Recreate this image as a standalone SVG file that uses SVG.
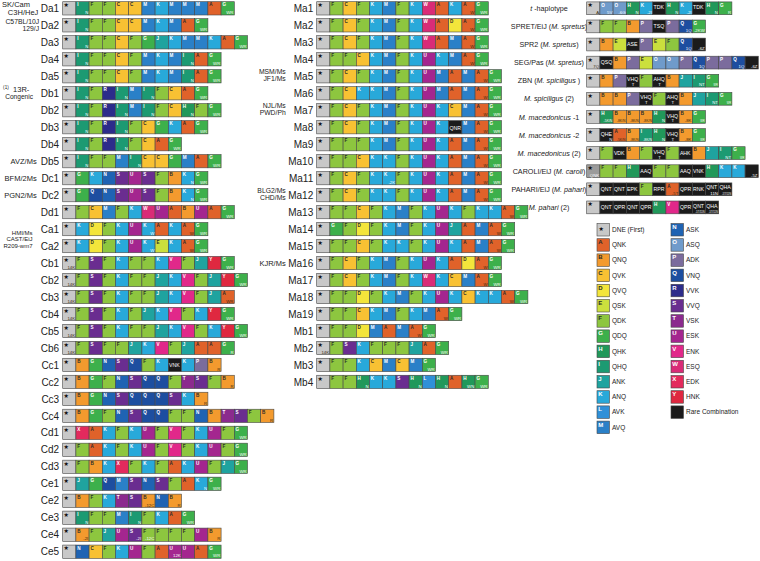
<svg xmlns="http://www.w3.org/2000/svg" width="760" height="561" viewBox="0 0 760 561">
<style>
rect{width:13.2px;height:13.3px;stroke:#474747;stroke-width:.6px}
.rc rect{height:12.8px}
.lg rect{width:12.5px;height:12.5px}
.Z{fill:#c8c8c8}.Z2{fill:#9b9b9b}.bx{fill:#1b1b1b}
.A{fill:#e0622a}.B{fill:#f39a2e}.C{fill:#f8c133}.D{fill:#f3e53b}.E{fill:#cbdf3d}.F{fill:#8dc63f}.G{fill:#3db04b}.H{fill:#21985a}.I{fill:#1c9a72}.J{fill:#1fa39f}.K{fill:#28a9da}.L{fill:#2f90d8}.M{fill:#2a80c8}.N{fill:#1f63b3}.O{fill:#6f9bcb}.P{fill:#7b6c9d}.Q{fill:#1d4ea0}.R{fill:#2c2c8b}.S{fill:#6a2d90}.T{fill:#8b2a8e}.U{fill:#a4268f}.V{fill:#e1288a}.W{fill:#d92c77}.X{fill:#e32a5d}.Y{fill:#df2840}
text{font-family:"Liberation Sans",Arial,sans-serif}
.l text{font-size:4.6px;font-weight:bold;fill:#fff}
.l .d{fill:#2a2a2a}
.s text{font-size:4.3px;fill:#fff;text-anchor:end}
.s .d{fill:#3a2a10}
.st{font-family:"DejaVu Sans",sans-serif;font-size:6px;fill:#111}
.bk{font-size:5.2px;fill:#fff}
.rl{font-size:10px;text-anchor:end;fill:#222}
.sl{font-size:7.5px;text-anchor:end;fill:#222}
.sm{font-size:6.8px;text-anchor:end;fill:#222}
.ss{font-size:6px;text-anchor:end;fill:#222}
.sp{font-size:7.2px;text-anchor:middle;fill:#222}
.i{font-style:italic}
.lt{font-size:6.5px;fill:#222}
.ll{font-size:6px;font-weight:bold;fill:#fff}
.ll.d{fill:#2a2a2a}
</style>

<g id="left">
<g id="Da1" transform="translate(62.7,1.7)"><text class="sl" x="-32.7" y="5.6">SK/Cam</text><text class="sl" x="-24.4" y="13.1">C3H/HeJ</text><text class="rl" x="-3.5" y="10.3">Da1</text><rect class="Z"/><rect class="I" x="13.2"/><rect class="F" x="26.4"/><rect class="F" x="39.6"/><rect class="C" x="52.8"/><rect class="C" x="66"/><rect class="M" x="79.2"/><rect class="K" x="92.4"/><rect class="M" x="105.6"/><rect class="M" x="118.8"/><rect class="M" x="132"/><rect class="A" x="145.2"/><rect class="G" x="158.4"/><text class="st" x=".8" y="5.4">★</text><g class="l" transform="translate(1.3,4.6)"><text x="13.2">I</text><text class="d" x="26.4">F</text><text class="d" x="39.6">F</text><text class="d" x="52.8">C</text><text class="d" x="66">C</text><text x="79.2">M</text><text x="92.4">K</text><text x="105.6">M</text><text x="118.8">M</text><text x="132">M</text><text class="d" x="145.2">A</text><text x="158.4">G</text></g><g class="s" transform="translate(12.4,12.4)"><text x="13.2">N</text><text x="158.4">WR</text></g></g>

<g id="Da2" transform="translate(62.7,18.68)"><text class="sm" x="-23.6" y="5.8">C57BL/10J</text><text class="sm" x="-23.6" y="12.8">129/J</text><text class="rl" x="-3.5" y="10.3">Da2</text><rect class="Z"/><rect class="I" x="13.2"/><rect class="F" x="26.4"/><rect class="F" x="39.6"/><rect class="C" x="52.8"/><rect class="C" x="66"/><rect class="M" x="79.2"/><rect class="K" x="92.4"/><rect class="M" x="105.6"/><rect class="A" x="118.8"/><rect class="G" x="132"/><text class="st" x=".8" y="5.4">★</text><g class="l" transform="translate(1.3,4.6)"><text x="13.2">I</text><text class="d" x="26.4">F</text><text class="d" x="39.6">F</text><text class="d" x="52.8">C</text><text class="d" x="66">C</text><text x="79.2">M</text><text x="92.4">K</text><text x="105.6">M</text><text class="d" x="118.8">A</text><text x="132">G</text></g><g class="s" transform="translate(12.4,12.4)"><text x="13.2">N</text><text x="132">WR</text></g></g>

<g id="Da3" transform="translate(62.7,35.66)"><text class="rl" x="-3.5" y="10.3">Da3</text><rect class="Z"/><rect class="I" x="13.2"/><rect class="F" x="26.4"/><rect class="F" x="39.6"/><rect class="C" x="52.8"/><rect class="F" x="66"/><rect class="G" x="79.2"/><rect class="J" x="92.4"/><rect class="K" x="105.6"/><rect class="M" x="118.8"/><rect class="M" x="132"/><rect class="K" x="145.2"/><rect class="A" x="158.4"/><rect class="G" x="171.6"/><text class="st" x=".8" y="5.4">★</text><g class="l" transform="translate(1.3,4.6)"><text x="13.2">I</text><text class="d" x="26.4">F</text><text class="d" x="39.6">F</text><text class="d" x="52.8">C</text><text class="d" x="66">F</text><text x="79.2">G</text><text x="92.4">J</text><text x="105.6">K</text><text x="118.8">M</text><text x="132">M</text><text x="145.2">K</text><text class="d" x="158.4">A</text><text x="171.6">G</text></g><g class="s" transform="translate(12.4,12.4)"><text x="13.2">N</text><text x="171.6">WR</text></g></g>

<g id="Da4" transform="translate(62.7,52.64)"><text class="rl" x="-3.5" y="10.3">Da4</text><rect class="Z"/><rect class="I" x="13.2"/><rect class="F" x="26.4"/><rect class="F" x="39.6"/><rect class="C" x="52.8"/><rect class="F" x="66"/><rect class="M" x="79.2"/><rect class="K" x="92.4"/><rect class="M" x="105.6"/><rect class="I" x="118.8"/><rect class="A" x="132"/><rect class="G" x="145.2"/><text class="st" x=".8" y="5.4">★</text><g class="l" transform="translate(1.3,4.6)"><text x="13.2">I</text><text class="d" x="26.4">F</text><text class="d" x="39.6">F</text><text class="d" x="52.8">C</text><text class="d" x="66">F</text><text x="79.2">M</text><text x="92.4">K</text><text x="105.6">M</text><text x="118.8">I</text><text class="d" x="132">A</text><text x="145.2">G</text></g><g class="s" transform="translate(12.4,12.4)"><text x="13.2">N</text><text x="118.8">N</text><text x="145.2">WR</text></g></g>

<g id="Da5" transform="translate(62.7,69.62)"><text class="rl" x="-3.5" y="10.3">Da5</text><rect class="Z"/><rect class="I" x="13.2"/><rect class="F" x="26.4"/><rect class="F" x="39.6"/><rect class="C" x="52.8"/><rect class="F" x="66"/><rect class="M" x="79.2"/><rect class="K" x="92.4"/><rect class="M" x="105.6"/><rect class="I" x="118.8"/><rect class="A" x="132"/><rect class="G" x="145.2"/><text class="st" x=".8" y="5.4">★</text><g class="l" transform="translate(1.3,4.6)"><text x="13.2">I</text><text class="d" x="26.4">F</text><text class="d" x="39.6">F</text><text class="d" x="52.8">C</text><text class="d" x="66">F</text><text x="79.2">M</text><text x="92.4">K</text><text x="105.6">M</text><text x="118.8">I</text><text class="d" x="132">A</text><text x="145.2">G</text></g><g class="s" transform="translate(12.4,12.4)"><text x="13.2">N</text><text x="118.8">N</text><text x="145.2">WR</text></g></g>

<g id="Db1" transform="translate(62.7,86.6)"><text x="-59.6" y="2.4" style="font-size:4.6px;fill:#222">(1)</text><text class="sl" x="-33.4" y="5.3">13R-</text><text class="sl" x="-29.7" y="12.9" style="font-size:6.6px">Congenic</text><text class="rl" x="-3.5" y="10.3">Db1</text><rect class="Z"/><rect class="I" x="13.2"/><rect class="F" x="26.4"/><rect class="R" x="39.6"/><rect class="I" x="52.8"/><rect class="M" x="66"/><rect class="I" x="79.2"/><rect class="F" x="92.4"/><rect class="C" x="105.6"/><rect class="A" x="118.8"/><rect class="G" x="132"/><text class="st" x=".8" y="5.4">★</text><g class="l" transform="translate(1.3,4.6)"><text x="13.2">I</text><text class="d" x="26.4">F</text><text x="39.6">R</text><text x="52.8">I</text><text x="66">M</text><text x="79.2">I</text><text class="d" x="92.4">F</text><text class="d" x="105.6">C</text><text class="d" x="118.8">A</text><text x="132">G</text></g><g class="s" transform="translate(12.4,12.4)"><text x="13.2">N</text><text x="52.8">N</text><text x="79.2">N</text><text x="132">WR</text></g></g>

<g id="Db2" transform="translate(62.7,103.58)"><text class="rl" x="-3.5" y="10.3">Db2</text><rect class="Z"/><rect class="I" x="13.2"/><rect class="F" x="26.4"/><rect class="R" x="39.6"/><rect class="I" x="52.8"/><rect class="M" x="66"/><rect class="I" x="79.2"/><rect class="F" x="92.4"/><rect class="C" x="105.6"/><rect class="H" x="118.8"/><rect class="F" x="132"/><rect class="G" x="145.2"/><text class="st" x=".8" y="5.4">★</text><g class="l" transform="translate(1.3,4.6)"><text x="13.2">I</text><text class="d" x="26.4">F</text><text x="39.6">R</text><text x="52.8">I</text><text x="66">M</text><text x="79.2">I</text><text class="d" x="92.4">F</text><text class="d" x="105.6">C</text><text x="118.8">H</text><text class="d" x="132">F</text><text x="145.2">G</text></g><g class="s" transform="translate(12.4,12.4)"><text x="13.2">N</text><text x="52.8">N</text><text x="79.2">N</text><text x="118.8">N</text><text x="145.2">WR</text></g></g>

<g id="Db3" transform="translate(62.7,120.56)"><text class="rl" x="-3.5" y="10.3">Db3</text><rect class="Z"/><rect class="I" x="13.2"/><rect class="F" x="26.4"/><rect class="R" x="39.6"/><rect class="I" x="52.8"/><rect class="F" x="66"/><rect class="C" x="79.2"/><rect class="G" x="92.4"/><rect class="K" x="105.6"/><rect class="A" x="118.8"/><rect class="G" x="132"/><text class="st" x=".8" y="5.4">★</text><g class="l" transform="translate(1.3,4.6)"><text x="13.2">I</text><text class="d" x="26.4">F</text><text x="39.6">R</text><text x="52.8">I</text><text class="d" x="66">F</text><text class="d" x="79.2">C</text><text x="92.4">G</text><text x="105.6">K</text><text class="d" x="118.8">A</text><text x="132">G</text></g><g class="s" transform="translate(12.4,12.4)"><text x="13.2">N</text><text x="52.8">N</text><text x="132">WR</text></g></g>

<g id="Db4" transform="translate(62.7,137.54)"><text class="rl" x="-3.5" y="10.3">Db4</text><rect class="Z"/><rect class="I" x="13.2"/><rect class="F" x="26.4"/><rect class="R" x="39.6"/><rect class="I" x="52.8"/><rect class="F" x="66"/><rect class="C" x="79.2"/><rect class="A" x="92.4"/><rect class="G" x="105.6"/><text class="st" x=".8" y="5.4">★</text><g class="l" transform="translate(1.3,4.6)"><text x="13.2">I</text><text class="d" x="26.4">F</text><text x="39.6">R</text><text x="52.8">I</text><text class="d" x="66">F</text><text class="d" x="79.2">C</text><text class="d" x="92.4">A</text><text x="105.6">G</text></g><g class="s" transform="translate(12.4,12.4)"><text x="13.2">N</text><text x="52.8">N</text><text x="105.6">WR</text></g></g>

<g id="Db5" transform="translate(62.7,154.52)"><text class="sl" x="-26" y="9.4">AVZ/Ms</text><text class="rl" x="-3.5" y="10.3">Db5</text><rect class="Z"/><rect class="I" x="13.2"/><rect class="F" x="26.4"/><rect class="F" x="39.6"/><rect class="M" x="52.8"/><rect class="I" x="66"/><rect class="C" x="79.2"/><rect class="C" x="92.4"/><rect class="G" x="105.6"/><rect class="M" x="118.8"/><rect class="A" x="132"/><rect class="G" x="145.2"/><text class="st" x=".8" y="5.4">★</text><g class="l" transform="translate(1.3,4.6)"><text x="13.2">I</text><text class="d" x="26.4">F</text><text class="d" x="39.6">F</text><text x="52.8">M</text><text x="66">I</text><text class="d" x="79.2">C</text><text class="d" x="92.4">C</text><text x="105.6">G</text><text x="118.8">M</text><text class="d" x="132">A</text><text x="145.2">G</text></g><g class="s" transform="translate(12.4,12.4)"><text x="13.2">N</text><text x="66">N</text><text x="145.2">WR</text></g></g>

<g id="Dc1" transform="translate(62.7,171.5)"><text class="sl" x="-26" y="9.4">BFM/2Ms</text><text class="rl" x="-3.5" y="10.3">Dc1</text><rect class="Z"/><rect class="G" x="13.2"/><rect class="K" x="26.4"/><rect class="N" x="39.6"/><rect class="S" x="52.8"/><rect class="U" x="66"/><rect class="S" x="79.2"/><rect class="F" x="92.4"/><rect class="B" x="105.6"/><rect class="K" x="118.8"/><rect class="G" x="132"/><text class="st" x=".8" y="5.4">★</text><g class="l" transform="translate(1.3,4.6)"><text x="13.2">G</text><text x="26.4">K</text><text x="39.6">N</text><text x="52.8">S</text><text x="66">U</text><text x="79.2">S</text><text class="d" x="92.4">F</text><text class="d" x="105.6">B</text><text x="118.8">K</text><text x="132">G</text></g><g class="s" transform="translate(12.4,12.4)"><text x="118.8">N</text><text x="132">WR</text></g></g>

<g id="Dc2" transform="translate(62.7,188.48)"><text class="sl" x="-26" y="9.4">PGN2/Ms</text><text class="rl" x="-3.5" y="10.3">Dc2</text><rect class="Z"/><rect class="G" x="13.2"/><rect class="Q" x="26.4"/><rect class="N" x="39.6"/><rect class="S" x="52.8"/><rect class="U" x="66"/><rect class="S" x="79.2"/><rect class="F" x="92.4"/><rect class="B" x="105.6"/><rect class="K" x="118.8"/><rect class="G" x="132"/><text class="st" x=".8" y="5.4">★</text><g class="l" transform="translate(1.3,4.6)"><text x="13.2">G</text><text x="26.4">Q</text><text x="39.6">N</text><text x="52.8">S</text><text x="66">U</text><text x="79.2">S</text><text class="d" x="92.4">F</text><text class="d" x="105.6">B</text><text x="118.8">K</text><text x="132">G</text></g><g class="s" transform="translate(12.4,12.4)"><text x="118.8">N</text><text x="132">WR</text></g></g>

<g id="Dd1" transform="translate(62.7,205.46)"><text class="rl" x="-3.5" y="10.3">Dd1</text><rect class="Z"/><rect class="F" x="13.2"/><rect class="C" x="26.4"/><rect class="M" x="39.6"/><rect class="F" x="52.8"/><rect class="K" x="66"/><rect class="W" x="79.2"/><rect class="U" x="92.4"/><rect class="A" x="105.6"/><rect class="B" x="118.8"/><rect class="U" x="132"/><rect class="A" x="145.2"/><rect class="G" x="158.4"/><text class="st" x=".8" y="5.4">★</text><g class="l" transform="translate(1.3,4.6)"><text class="d" x="13.2">F</text><text class="d" x="26.4">C</text><text x="39.6">M</text><text class="d" x="52.8">F</text><text x="66">K</text><text x="79.2">W</text><text x="92.4">U</text><text class="d" x="105.6">A</text><text class="d" x="118.8">B</text><text x="132">U</text><text class="d" x="145.2">A</text><text x="158.4">G</text></g><g class="s" transform="translate(12.4,12.4)"><text x="158.4">WR</text></g></g>

<g id="Ca1" transform="translate(62.7,222.44)"><text class="rl" x="-3.5" y="10.3">Ca1</text><rect class="Z"/><rect class="K" x="13.2"/><rect class="D" x="26.4"/><rect class="F" x="39.6"/><rect class="K" x="52.8"/><rect class="U" x="66"/><rect class="K" x="79.2"/><rect class="A" x="92.4"/><rect class="K" x="105.6"/><rect class="A" x="118.8"/><rect class="G" x="132"/><text class="st" x=".8" y="5.4">★</text><g class="l" transform="translate(1.3,4.6)"><text x="13.2">K</text><text class="d" x="26.4">D</text><text class="d" x="39.6">F</text><text x="52.8">K</text><text x="66">U</text><text x="79.2">K</text><text class="d" x="92.4">A</text><text x="105.6">K</text><text class="d" x="118.8">A</text><text x="132">G</text></g><g class="s" transform="translate(12.4,12.4)"><text x="79.2">W</text><text class="d" x="118.8">W</text><text x="132">WR</text></g></g>

<g id="Ca2" transform="translate(62.7,239.42)"><text class="ss" x="-30.2" y="-4.6">HMI/Ms</text><text class="ss" x="-30.2" y="1.8">CAST/EiJ</text><text class="ss" x="-30.2" y="8.2">R209-wm7</text><text class="rl" x="-3.5" y="10.3">Ca2</text><rect class="Z"/><rect class="K" x="13.2"/><rect class="D" x="26.4"/><rect class="F" x="39.6"/><rect class="K" x="52.8"/><rect class="U" x="66"/><rect class="K" x="79.2"/><rect class="E" x="92.4"/><rect class="K" x="105.6"/><rect class="A" x="118.8"/><rect class="G" x="132"/><text class="st" x=".8" y="5.4">★</text><g class="l" transform="translate(1.3,4.6)"><text x="13.2">K</text><text class="d" x="26.4">D</text><text class="d" x="39.6">F</text><text x="52.8">K</text><text x="66">U</text><text x="79.2">K</text><text class="d" x="92.4">E</text><text x="105.6">K</text><text class="d" x="118.8">A</text><text x="132">G</text></g><g class="s" transform="translate(12.4,12.4)"><text x="79.2">W</text><text class="d" x="118.8">W</text><text x="132">WR</text></g></g>

<g id="Cb1" transform="translate(62.7,256.4)"><text class="rl" x="-3.5" y="10.3">Cb1</text><rect class="Z"/><rect class="F" x="13.2"/><rect class="S" x="26.4"/><rect class="F" x="39.6"/><rect class="K" x="52.8"/><rect class="F" x="66"/><rect class="F" x="79.2"/><rect class="K" x="92.4"/><rect class="V" x="105.6"/><rect class="F" x="118.8"/><rect class="J" x="132"/><rect class="Y" x="145.2"/><rect class="G" x="158.4"/><text class="st" x=".8" y="5.4">★</text><g class="l" transform="translate(1.3,4.6)"><text class="d" x="13.2">F</text><text x="26.4">S</text><text class="d" x="39.6">F</text><text x="52.8">K</text><text class="d" x="66">F</text><text class="d" x="79.2">F</text><text x="92.4">K</text><text x="105.6">V</text><text class="d" x="118.8">F</text><text x="132">J</text><text x="145.2">Y</text><text x="158.4">G</text></g><g class="s" transform="translate(12.4,12.4)"><text class="d" x="0">14K</text><text x="158.4">WR</text></g></g>

<g id="Cb2" transform="translate(62.7,273.38)"><text class="rl" x="-3.5" y="10.3">Cb2</text><rect class="Z"/><rect class="F" x="13.2"/><rect class="S" x="26.4"/><rect class="F" x="39.6"/><rect class="K" x="52.8"/><rect class="F" x="66"/><rect class="F" x="79.2"/><rect class="J" x="92.4"/><rect class="K" x="105.6"/><rect class="V" x="118.8"/><rect class="F" x="132"/><rect class="J" x="145.2"/><rect class="Y" x="158.4"/><rect class="G" x="171.6"/><text class="st" x=".8" y="5.4">★</text><g class="l" transform="translate(1.3,4.6)"><text class="d" x="13.2">F</text><text x="26.4">S</text><text class="d" x="39.6">F</text><text x="52.8">K</text><text class="d" x="66">F</text><text class="d" x="79.2">F</text><text x="92.4">J</text><text x="105.6">K</text><text x="118.8">V</text><text class="d" x="132">F</text><text x="145.2">J</text><text x="158.4">Y</text><text x="171.6">G</text></g><g class="s" transform="translate(12.4,12.4)"><text class="d" x="0">14K</text><text x="171.6">WR</text></g></g>

<g id="Cb3" transform="translate(62.7,290.36)"><text class="rl" x="-3.5" y="10.3">Cb3</text><rect class="Z"/><rect class="F" x="13.2"/><rect class="S" x="26.4"/><rect class="F" x="39.6"/><rect class="K" x="52.8"/><rect class="F" x="66"/><rect class="F" x="79.2"/><rect class="J" x="92.4"/><rect class="K" x="105.6"/><rect class="V" x="118.8"/><rect class="F" x="132"/><rect class="J" x="145.2"/><rect class="A" x="158.4"/><text class="st" x=".8" y="5.4">★</text><g class="l" transform="translate(1.3,4.6)"><text class="d" x="13.2">F</text><text x="26.4">S</text><text class="d" x="39.6">F</text><text x="52.8">K</text><text class="d" x="66">F</text><text class="d" x="79.2">F</text><text x="92.4">J</text><text x="105.6">K</text><text x="118.8">V</text><text class="d" x="132">F</text><text x="145.2">J</text><text class="d" x="158.4">A</text></g><g class="s" transform="translate(12.4,12.4)"><text class="d" x="0">14K</text><text class="d" x="158.4">WR</text></g></g>

<g id="Cb4" transform="translate(62.7,307.34)"><text class="rl" x="-3.5" y="10.3">Cb4</text><rect class="Z"/><rect class="F" x="13.2"/><rect class="S" x="26.4"/><rect class="F" x="39.6"/><rect class="K" x="52.8"/><rect class="F" x="66"/><rect class="J" x="79.2"/><rect class="K" x="92.4"/><rect class="V" x="105.6"/><rect class="F" x="118.8"/><rect class="K" x="132"/><rect class="Y" x="145.2"/><rect class="G" x="158.4"/><text class="st" x=".8" y="5.4">★</text><g class="l" transform="translate(1.3,4.6)"><text class="d" x="13.2">F</text><text x="26.4">S</text><text class="d" x="39.6">F</text><text x="52.8">K</text><text class="d" x="66">F</text><text x="79.2">J</text><text x="92.4">K</text><text x="105.6">V</text><text class="d" x="118.8">F</text><text x="132">K</text><text x="145.2">Y</text><text x="158.4">G</text></g><g class="s" transform="translate(12.4,12.4)"><text class="d" x="0">14K</text><text x="158.4">WR</text></g></g>

<g id="Cb5" transform="translate(62.7,324.32)"><text class="rl" x="-3.5" y="10.3">Cb5</text><rect class="Z"/><rect class="F" x="13.2"/><rect class="S" x="26.4"/><rect class="F" x="39.6"/><rect class="K" x="52.8"/><rect class="F" x="66"/><rect class="F" x="79.2"/><rect class="J" x="92.4"/><rect class="K" x="105.6"/><rect class="V" x="118.8"/><rect class="F" x="132"/><rect class="K" x="145.2"/><rect class="Y" x="158.4"/><rect class="G" x="171.6"/><text class="st" x=".8" y="5.4">★</text><g class="l" transform="translate(1.3,4.6)"><text class="d" x="13.2">F</text><text x="26.4">S</text><text class="d" x="39.6">F</text><text x="52.8">K</text><text class="d" x="66">F</text><text class="d" x="79.2">F</text><text x="92.4">J</text><text x="105.6">K</text><text x="118.8">V</text><text class="d" x="132">F</text><text x="145.2">K</text><text x="158.4">Y</text><text x="171.6">G</text></g><g class="s" transform="translate(12.4,12.4)"><text class="d" x="0">14K</text><text x="171.6">WR</text></g></g>

<g id="Cb6" transform="translate(62.7,341.3)"><text class="rl" x="-3.5" y="10.3">Cb6</text><rect class="Z"/><rect class="F" x="13.2"/><rect class="S" x="26.4"/><rect class="F" x="39.6"/><rect class="F" x="52.8"/><rect class="J" x="66"/><rect class="K" x="79.2"/><rect class="V" x="92.4"/><rect class="F" x="105.6"/><rect class="J" x="118.8"/><rect class="A" x="132"/><rect class="A" x="145.2"/><rect class="G" x="158.4"/><text class="st" x=".8" y="5.4">★</text><g class="l" transform="translate(1.3,4.6)"><text class="d" x="13.2">F</text><text x="26.4">S</text><text class="d" x="39.6">F</text><text class="d" x="52.8">F</text><text x="66">J</text><text x="79.2">K</text><text x="92.4">V</text><text class="d" x="105.6">F</text><text x="118.8">J</text><text class="d" x="132">A</text><text class="d" x="145.2">A</text><text x="158.4">G</text></g><g class="s" transform="translate(12.4,12.4)"><text class="d" x="0">14K</text><text x="158.4">R</text></g></g>

<g id="Cc1" transform="translate(62.7,358.28)"><text class="rl" x="-3.5" y="10.3">Cc1</text><rect class="Z"/><rect class="B" x="13.2"/><rect class="G" x="26.4"/><rect class="N" x="39.6"/><rect class="S" x="52.8"/><rect class="Q" x="66"/><rect class="F" x="79.2"/><rect class="K" x="92.4"/><rect class="bx" x="105.6"/><rect class="K" x="118.8"/><rect class="P" x="132"/><rect class="B" x="145.2"/><text class="st" x=".8" y="5.4">★</text><text class="bk" x="106.4" y="9">VNK</text><g class="l" transform="translate(1.3,4.6)"><text class="d" x="13.2">B</text><text x="26.4">G</text><text x="39.6">N</text><text x="52.8">S</text><text x="66">Q</text><text class="d" x="79.2">F</text><text x="92.4">K</text><text x="118.8">K</text><text x="132">P</text><text class="d" x="145.2">B</text></g><g class="s" transform="translate(12.4,12.4)"><text class="d" x="145.2">R</text></g></g>

<g id="Cc2" transform="translate(62.7,375.26)"><text class="rl" x="-3.5" y="10.3">Cc2</text><rect class="Z"/><rect class="B" x="13.2"/><rect class="G" x="26.4"/><rect class="F" x="39.6"/><rect class="N" x="52.8"/><rect class="S" x="66"/><rect class="Q" x="79.2"/><rect class="Q" x="92.4"/><rect class="F" x="105.6"/><rect class="T" x="118.8"/><rect class="S" x="132"/><rect class="F" x="145.2"/><rect class="B" x="158.4"/><text class="st" x=".8" y="5.4">★</text><g class="l" transform="translate(1.3,4.6)"><text class="d" x="13.2">B</text><text x="26.4">G</text><text class="d" x="39.6">F</text><text x="52.8">N</text><text x="66">S</text><text x="79.2">Q</text><text x="92.4">Q</text><text class="d" x="105.6">F</text><text x="118.8">T</text><text x="132">S</text><text class="d" x="145.2">F</text><text class="d" x="158.4">B</text></g><g class="s" transform="translate(12.4,12.4)"><text class="d" x="158.4">R</text></g></g>

<g id="Cc3" transform="translate(62.7,392.24)"><text class="rl" x="-3.5" y="10.3">Cc3</text><rect class="Z"/><rect class="B" x="13.2"/><rect class="G" x="26.4"/><rect class="N" x="39.6"/><rect class="S" x="52.8"/><rect class="Q" x="66"/><rect class="Q" x="79.2"/><rect class="Q" x="92.4"/><rect class="S" x="105.6"/><rect class="K" x="118.8"/><rect class="B" x="132"/><text class="st" x=".8" y="5.4">★</text><g class="l" transform="translate(1.3,4.6)"><text class="d" x="13.2">B</text><text x="26.4">G</text><text x="39.6">N</text><text x="52.8">S</text><text x="66">Q</text><text x="79.2">Q</text><text x="92.4">Q</text><text x="105.6">S</text><text x="118.8">K</text><text class="d" x="132">B</text></g><g class="s" transform="translate(12.4,12.4)"><text class="d" x="132">R</text></g></g>

<g id="Cc4" transform="translate(62.7,409.22)"><text class="rl" x="-3.5" y="10.3">Cc4</text><rect class="Z"/><rect class="B" x="13.2"/><rect class="G" x="26.4"/><rect class="F" x="39.6"/><rect class="N" x="52.8"/><rect class="S" x="66"/><rect class="Q" x="79.2"/><rect class="Q" x="92.4"/><rect class="F" x="105.6"/><rect class="F" x="118.8"/><rect class="N" x="132"/><rect class="B" x="145.2"/><rect class="T" x="158.4"/><rect class="S" x="171.6"/><rect class="F" x="184.8"/><rect class="B" x="198"/><text class="st" x=".8" y="5.4">★</text><g class="l" transform="translate(1.3,4.6)"><text class="d" x="13.2">B</text><text x="26.4">G</text><text class="d" x="39.6">F</text><text x="52.8">N</text><text x="66">S</text><text x="79.2">Q</text><text x="92.4">Q</text><text class="d" x="105.6">F</text><text class="d" x="118.8">F</text><text x="132">N</text><text class="d" x="145.2">B</text><text x="158.4">T</text><text x="171.6">S</text><text class="d" x="184.8">F</text><text class="d" x="198">B</text></g><g class="s" transform="translate(12.4,12.4)"><text class="d" x="198">R</text></g></g>

<g id="Cd1" transform="translate(62.7,426.2)"><text class="rl" x="-3.5" y="10.3">Cd1</text><rect class="Z"/><rect class="X" x="13.2"/><rect class="A" x="26.4"/><rect class="K" x="39.6"/><rect class="F" x="52.8"/><rect class="K" x="66"/><rect class="U" x="79.2"/><rect class="F" x="92.4"/><rect class="V" x="105.6"/><rect class="F" x="118.8"/><rect class="K" x="132"/><rect class="U" x="145.2"/><rect class="F" x="158.4"/><rect class="G" x="171.6"/><text class="st" x=".8" y="5.4">★</text><g class="l" transform="translate(1.3,4.6)"><text x="13.2">X</text><text class="d" x="26.4">A</text><text x="39.6">K</text><text class="d" x="52.8">F</text><text x="66">K</text><text x="79.2">U</text><text class="d" x="92.4">F</text><text x="105.6">V</text><text class="d" x="118.8">F</text><text x="132">K</text><text x="145.2">U</text><text class="d" x="158.4">F</text><text x="171.6">G</text></g><g class="s" transform="translate(12.4,12.4)"><text x="171.6">WR</text></g></g>

<g id="Cd2" transform="translate(62.7,443.18)"><text class="rl" x="-3.5" y="10.3">Cd2</text><rect class="Z"/><rect class="F" x="13.2"/><rect class="A" x="26.4"/><rect class="K" x="39.6"/><rect class="F" x="52.8"/><rect class="K" x="66"/><rect class="U" x="79.2"/><rect class="F" x="92.4"/><rect class="V" x="105.6"/><rect class="F" x="118.8"/><rect class="K" x="132"/><rect class="U" x="145.2"/><rect class="F" x="158.4"/><rect class="G" x="171.6"/><text class="st" x=".8" y="5.4">★</text><g class="l" transform="translate(1.3,4.6)"><text class="d" x="13.2">F</text><text class="d" x="26.4">A</text><text x="39.6">K</text><text class="d" x="52.8">F</text><text x="66">K</text><text x="79.2">U</text><text class="d" x="92.4">F</text><text x="105.6">V</text><text class="d" x="118.8">F</text><text x="132">K</text><text x="145.2">U</text><text class="d" x="158.4">F</text><text x="171.6">G</text></g><g class="s" transform="translate(12.4,12.4)"><text x="171.6">WR</text></g></g>

<g id="Cd3" transform="translate(62.7,460.16)"><text class="rl" x="-3.5" y="10.3">Cd3</text><rect class="Z"/><rect class="F" x="13.2"/><rect class="B" x="26.4"/><rect class="K" x="39.6"/><rect class="X" x="52.8"/><rect class="F" x="66"/><rect class="K" x="79.2"/><rect class="F" x="92.4"/><rect class="A" x="105.6"/><rect class="K" x="118.8"/><rect class="U" x="132"/><rect class="F" x="145.2"/><rect class="J" x="158.4"/><rect class="G" x="171.6"/><text class="st" x=".8" y="5.4">★</text><g class="l" transform="translate(1.3,4.6)"><text class="d" x="13.2">F</text><text class="d" x="26.4">B</text><text x="39.6">K</text><text x="52.8">X</text><text class="d" x="66">F</text><text x="79.2">K</text><text class="d" x="92.4">F</text><text class="d" x="105.6">A</text><text x="118.8">K</text><text x="132">U</text><text class="d" x="145.2">F</text><text x="158.4">J</text><text x="171.6">G</text></g><g class="s" transform="translate(12.4,12.4)"><text x="171.6">WR</text></g></g>

<g id="Ce1" transform="translate(62.7,477.14)"><text class="rl" x="-3.5" y="10.3">Ce1</text><rect class="Z"/><rect class="J" x="13.2"/><rect class="G" x="26.4"/><rect class="Q" x="39.6"/><rect class="M" x="52.8"/><rect class="S" x="66"/><rect class="N" x="79.2"/><rect class="S" x="92.4"/><rect class="F" x="105.6"/><rect class="A" x="118.8"/><rect class="K" x="132"/><rect class="G" x="145.2"/><text class="st" x=".8" y="5.4">★</text><g class="l" transform="translate(1.3,4.6)"><text x="13.2">J</text><text x="26.4">G</text><text x="39.6">Q</text><text x="52.8">M</text><text x="66">S</text><text x="79.2">N</text><text x="92.4">S</text><text class="d" x="105.6">F</text><text class="d" x="118.8">A</text><text x="132">K</text><text x="145.2">G</text></g><g class="s" transform="translate(12.4,12.4)"><text x="132">N</text><text x="145.2">WR</text></g></g>

<g id="Ce2" transform="translate(62.7,494.12)"><text class="rl" x="-3.5" y="10.3">Ce2</text><rect class="Z"/><rect class="B" x="13.2"/><rect class="F" x="26.4"/><rect class="K" x="39.6"/><rect class="T" x="52.8"/><rect class="S" x="66"/><rect class="B" x="79.2"/><rect class="N" x="92.4"/><rect class="B" x="105.6"/><text class="st" x=".8" y="5.4">★</text><g class="l" transform="translate(1.3,4.6)"><text class="d" x="13.2">B</text><text class="d" x="26.4">F</text><text x="39.6">K</text><text x="52.8">T</text><text x="66">S</text><text class="d" x="79.2">B</text><text x="92.4">N</text><text class="d" x="105.6">B</text></g><g class="s" transform="translate(12.4,12.4)"><text class="d" x="79.2">-12C</text><text class="d" x="105.6">R</text></g></g>

<g id="Ce3" transform="translate(62.7,511.1)"><text class="rl" x="-3.5" y="10.3">Ce3</text><rect class="Z"/><rect class="I" x="13.2"/><rect class="F" x="26.4"/><rect class="F" x="39.6"/><rect class="M" x="52.8"/><rect class="I" x="66"/><rect class="F" x="79.2"/><rect class="K" x="92.4"/><rect class="A" x="105.6"/><rect class="G" x="118.8"/><text class="st" x=".8" y="5.4">★</text><g class="l" transform="translate(1.3,4.6)"><text x="13.2">I</text><text class="d" x="26.4">F</text><text class="d" x="39.6">F</text><text x="52.8">M</text><text x="66">I</text><text class="d" x="79.2">F</text><text x="92.4">K</text><text class="d" x="105.6">A</text><text x="118.8">G</text></g><g class="s" transform="translate(12.4,12.4)"><text x="13.2">N</text><text x="66">N</text><text x="118.8">WR</text></g></g>

<g id="Ce4" transform="translate(62.7,528.08)"><text class="rl" x="-3.5" y="10.3">Ce4</text><rect class="Z"/><rect class="B" x="13.2"/><rect class="F" x="26.4"/><rect class="J" x="39.6"/><rect class="U" x="52.8"/><rect class="S" x="66"/><rect class="F" x="79.2"/><rect class="F" x="92.4"/><rect class="F" x="105.6"/><rect class="F" x="118.8"/><rect class="U" x="132"/><rect class="B" x="145.2"/><text class="st" x=".8" y="5.4">★</text><g class="l" transform="translate(1.3,4.6)"><text class="d" x="13.2">B</text><text class="d" x="26.4">F</text><text x="39.6">J</text><text x="52.8">U</text><text x="66">S</text><text class="d" x="79.2">F</text><text class="d" x="92.4">F</text><text class="d" x="105.6">F</text><text class="d" x="118.8">F</text><text x="132">U</text><text class="d" x="145.2">B</text></g><g class="s" transform="translate(12.4,12.4)"><text class="d" x="13.2">-2I</text><text x="66">-2I</text><text x="79.2">-12C</text><text class="d" x="145.2">R</text></g></g>

<g id="Ce5" transform="translate(62.7,545.06)"><text class="rl" x="-3.5" y="10.3">Ce5</text><rect class="Z"/><rect class="N" x="13.2"/><rect class="C" x="26.4"/><rect class="F" x="39.6"/><rect class="K" x="52.8"/><rect class="U" x="66"/><rect class="F" x="79.2"/><rect class="A" x="92.4"/><rect class="U" x="105.6"/><rect class="U" x="118.8"/><rect class="A" x="132"/><rect class="G" x="145.2"/><text class="st" x=".8" y="5.4">★</text><g class="l" transform="translate(1.3,4.6)"><text x="13.2">N</text><text class="d" x="26.4">C</text><text class="d" x="39.6">F</text><text x="52.8">K</text><text x="66">U</text><text class="d" x="79.2">F</text><text class="d" x="92.4">A</text><text x="105.6">U</text><text x="118.8">U</text><text class="d" x="132">A</text><text x="145.2">G</text></g><g class="s" transform="translate(12.4,12.4)"><text x="105.6">12K</text><text x="145.2">WR</text></g></g>
</g>

<g id="middle">
<g id="Ma1" transform="translate(316.7,1.7)"><text class="rl" x="-3.5" y="10.3">Ma1</text><rect class="Z"/><rect class="F" x="13.2"/><rect class="C" x="26.4"/><rect class="F" x="39.6"/><rect class="K" x="52.8"/><rect class="M" x="66"/><rect class="F" x="79.2"/><rect class="K" x="92.4"/><rect class="W" x="105.6"/><rect class="A" x="118.8"/><rect class="K" x="132"/><rect class="A" x="145.2"/><rect class="G" x="158.4"/><text class="st" x=".8" y="5.4">★</text><g class="l" transform="translate(1.3,4.6)"><text class="d" x="13.2">F</text><text class="d" x="26.4">C</text><text class="d" x="39.6">F</text><text x="52.8">K</text><text x="66">M</text><text class="d" x="79.2">F</text><text x="92.4">K</text><text x="105.6">W</text><text class="d" x="118.8">A</text><text x="132">K</text><text class="d" x="145.2">A</text><text x="158.4">G</text></g><g class="s" transform="translate(12.4,12.4)"><text class="d" x="145.2">W</text><text x="158.4">WR</text></g></g>

<g id="Ma2" transform="translate(316.7,18.68)"><text class="rl" x="-3.5" y="10.3">Ma2</text><rect class="Z"/><rect class="F" x="13.2"/><rect class="C" x="26.4"/><rect class="F" x="39.6"/><rect class="K" x="52.8"/><rect class="M" x="66"/><rect class="F" x="79.2"/><rect class="K" x="92.4"/><rect class="W" x="105.6"/><rect class="A" x="118.8"/><rect class="D" x="132"/><rect class="A" x="145.2"/><rect class="G" x="158.4"/><text class="st" x=".8" y="5.4">★</text><g class="l" transform="translate(1.3,4.6)"><text class="d" x="13.2">F</text><text class="d" x="26.4">C</text><text class="d" x="39.6">F</text><text x="52.8">K</text><text x="66">M</text><text class="d" x="79.2">F</text><text x="92.4">K</text><text x="105.6">W</text><text class="d" x="118.8">A</text><text class="d" x="132">D</text><text class="d" x="145.2">A</text><text x="158.4">G</text></g><g class="s" transform="translate(12.4,12.4)"><text class="d" x="145.2">W</text><text x="158.4">WR</text></g></g>

<g id="Ma3" transform="translate(316.7,35.66)"><text class="rl" x="-3.5" y="10.3">Ma3</text><rect class="Z"/><rect class="F" x="13.2"/><rect class="C" x="26.4"/><rect class="F" x="39.6"/><rect class="K" x="52.8"/><rect class="M" x="66"/><rect class="F" x="79.2"/><rect class="K" x="92.4"/><rect class="W" x="105.6"/><rect class="A" x="118.8"/><rect class="M" x="132"/><rect class="A" x="145.2"/><rect class="G" x="158.4"/><text class="st" x=".8" y="5.4">★</text><g class="l" transform="translate(1.3,4.6)"><text class="d" x="13.2">F</text><text class="d" x="26.4">C</text><text class="d" x="39.6">F</text><text x="52.8">K</text><text x="66">M</text><text class="d" x="79.2">F</text><text x="92.4">K</text><text x="105.6">W</text><text class="d" x="118.8">A</text><text x="132">M</text><text class="d" x="145.2">A</text><text x="158.4">G</text></g><g class="s" transform="translate(12.4,12.4)"><text class="d" x="145.2">W</text><text x="158.4">WR</text></g></g>

<g id="Ma4" transform="translate(316.7,52.64)"><text class="rl" x="-3.5" y="10.3">Ma4</text><rect class="Z"/><rect class="F" x="13.2"/><rect class="F" x="26.4"/><rect class="C" x="39.6"/><rect class="K" x="52.8"/><rect class="M" x="66"/><rect class="F" x="79.2"/><rect class="K" x="92.4"/><rect class="U" x="105.6"/><rect class="K" x="118.8"/><rect class="M" x="132"/><rect class="A" x="145.2"/><rect class="G" x="158.4"/><text class="st" x=".8" y="5.4">★</text><g class="l" transform="translate(1.3,4.6)"><text class="d" x="13.2">F</text><text class="d" x="26.4">F</text><text class="d" x="39.6">C</text><text x="52.8">K</text><text x="66">M</text><text class="d" x="79.2">F</text><text x="92.4">K</text><text x="105.6">U</text><text x="118.8">K</text><text x="132">M</text><text class="d" x="145.2">A</text><text x="158.4">G</text></g><g class="s" transform="translate(12.4,12.4)"><text class="d" x="145.2">W</text><text x="158.4">WR</text></g></g>

<g id="Ma5" transform="translate(316.7,69.62)"><text class="sm" x="-31" y="4.6">MSM/Ms</text><text class="sm" x="-31" y="11.4">JF1/Ms</text><text class="rl" x="-3.5" y="10.3">Ma5</text><rect class="Z"/><rect class="F" x="13.2"/><rect class="C" x="26.4"/><rect class="F" x="39.6"/><rect class="K" x="52.8"/><rect class="M" x="66"/><rect class="F" x="79.2"/><rect class="K" x="92.4"/><rect class="U" x="105.6"/><rect class="M" x="118.8"/><rect class="A" x="132"/><rect class="M" x="145.2"/><rect class="A" x="158.4"/><rect class="G" x="171.6"/><text class="st" x=".8" y="5.4">★</text><g class="l" transform="translate(1.3,4.6)"><text class="d" x="13.2">F</text><text class="d" x="26.4">C</text><text class="d" x="39.6">F</text><text x="52.8">K</text><text x="66">M</text><text class="d" x="79.2">F</text><text x="92.4">K</text><text x="105.6">U</text><text x="118.8">M</text><text class="d" x="132">A</text><text x="145.2">M</text><text class="d" x="158.4">A</text><text x="171.6">G</text></g><g class="s" transform="translate(12.4,12.4)"><text class="d" x="158.4">W</text><text x="171.6">WR</text></g></g>

<g id="Ma6" transform="translate(316.7,86.6)"><text class="rl" x="-3.5" y="10.3">Ma6</text><rect class="Z"/><rect class="F" x="13.2"/><rect class="C" x="26.4"/><rect class="K" x="39.6"/><rect class="K" x="52.8"/><rect class="M" x="66"/><rect class="F" x="79.2"/><rect class="K" x="92.4"/><rect class="U" x="105.6"/><rect class="M" x="118.8"/><rect class="A" x="132"/><rect class="M" x="145.2"/><rect class="A" x="158.4"/><rect class="G" x="171.6"/><text class="st" x=".8" y="5.4">★</text><g class="l" transform="translate(1.3,4.6)"><text class="d" x="13.2">F</text><text class="d" x="26.4">C</text><text x="39.6">K</text><text x="52.8">K</text><text x="66">M</text><text class="d" x="79.2">F</text><text x="92.4">K</text><text x="105.6">U</text><text x="118.8">M</text><text class="d" x="132">A</text><text x="145.2">M</text><text class="d" x="158.4">A</text><text x="171.6">G</text></g><g class="s" transform="translate(12.4,12.4)"><text class="d" x="158.4">W</text><text x="171.6">WR</text></g></g>

<g id="Ma7" transform="translate(316.7,103.58)"><text class="sm" x="-31" y="4.6">NJL/Ms</text><text class="sm" x="-31" y="11.4">PWD/Ph</text><text class="rl" x="-3.5" y="10.3">Ma7</text><rect class="Z"/><rect class="F" x="13.2"/><rect class="C" x="26.4"/><rect class="F" x="39.6"/><rect class="K" x="52.8"/><rect class="M" x="66"/><rect class="F" x="79.2"/><rect class="K" x="92.4"/><rect class="U" x="105.6"/><rect class="K" x="118.8"/><rect class="C" x="132"/><rect class="M" x="145.2"/><rect class="A" x="158.4"/><rect class="G" x="171.6"/><text class="st" x=".8" y="5.4">★</text><g class="l" transform="translate(1.3,4.6)"><text class="d" x="13.2">F</text><text class="d" x="26.4">C</text><text class="d" x="39.6">F</text><text x="52.8">K</text><text x="66">M</text><text class="d" x="79.2">F</text><text x="92.4">K</text><text x="105.6">U</text><text x="118.8">K</text><text class="d" x="132">C</text><text x="145.2">M</text><text class="d" x="158.4">A</text><text x="171.6">G</text></g><g class="s" transform="translate(12.4,12.4)"><text class="d" x="158.4">W</text><text x="171.6">WR</text></g></g>

<g id="Ma8" transform="translate(316.7,120.56)"><text class="rl" x="-3.5" y="10.3">Ma8</text><rect class="Z"/><rect class="F" x="13.2"/><rect class="C" x="26.4"/><rect class="F" x="39.6"/><rect class="K" x="52.8"/><rect class="M" x="66"/><rect class="F" x="79.2"/><rect class="K" x="92.4"/><rect class="U" x="105.6"/><rect class="K" x="118.8"/><rect class="bx" x="132"/><rect class="M" x="145.2"/><rect class="A" x="158.4"/><rect class="G" x="171.6"/><text class="st" x=".8" y="5.4">★</text><text class="bk" x="132.7" y="9">QNR</text><g class="l" transform="translate(1.3,4.6)"><text class="d" x="13.2">F</text><text class="d" x="26.4">C</text><text class="d" x="39.6">F</text><text x="52.8">K</text><text x="66">M</text><text class="d" x="79.2">F</text><text x="92.4">K</text><text x="105.6">U</text><text x="118.8">K</text><text x="145.2">M</text><text class="d" x="158.4">A</text><text x="171.6">G</text></g><g class="s" transform="translate(12.4,12.4)"><text class="d" x="158.4">W</text><text x="171.6">WR</text></g></g>

<g id="Ma9" transform="translate(316.7,137.54)"><text class="rl" x="-3.5" y="10.3">Ma9</text><rect class="Z"/><rect class="F" x="13.2"/><rect class="F" x="26.4"/><rect class="F" x="39.6"/><rect class="K" x="52.8"/><rect class="M" x="66"/><rect class="F" x="79.2"/><rect class="K" x="92.4"/><rect class="U" x="105.6"/><rect class="K" x="118.8"/><rect class="A" x="132"/><rect class="M" x="145.2"/><rect class="A" x="158.4"/><rect class="G" x="171.6"/><text class="st" x=".8" y="5.4">★</text><g class="l" transform="translate(1.3,4.6)"><text class="d" x="13.2">F</text><text class="d" x="26.4">F</text><text class="d" x="39.6">F</text><text x="52.8">K</text><text x="66">M</text><text class="d" x="79.2">F</text><text x="92.4">K</text><text x="105.6">U</text><text x="118.8">K</text><text class="d" x="132">A</text><text x="145.2">M</text><text class="d" x="158.4">A</text><text x="171.6">G</text></g><g class="s" transform="translate(12.4,12.4)"><text class="d" x="158.4">W</text><text x="171.6">WR</text></g></g>

<g id="Ma10" transform="translate(316.7,154.52)"><text class="rl" x="-3.5" y="10.3">Ma10</text><rect class="Z"/><rect class="F" x="13.2"/><rect class="F" x="26.4"/><rect class="C" x="39.6"/><rect class="K" x="52.8"/><rect class="K" x="66"/><rect class="F" x="79.2"/><rect class="K" x="92.4"/><rect class="U" x="105.6"/><rect class="K" x="118.8"/><rect class="A" x="132"/><rect class="M" x="145.2"/><rect class="A" x="158.4"/><rect class="G" x="171.6"/><text class="st" x=".8" y="5.4">★</text><g class="l" transform="translate(1.3,4.6)"><text class="d" x="13.2">F</text><text class="d" x="26.4">F</text><text class="d" x="39.6">C</text><text x="52.8">K</text><text x="66">K</text><text class="d" x="79.2">F</text><text x="92.4">K</text><text x="105.6">U</text><text x="118.8">K</text><text class="d" x="132">A</text><text x="145.2">M</text><text class="d" x="158.4">A</text><text x="171.6">G</text></g><g class="s" transform="translate(12.4,12.4)"><text class="d" x="158.4">W</text><text x="171.6">WR</text></g></g>

<g id="Ma11" transform="translate(316.7,171.5)"><text class="rl" x="-3.5" y="10.3">Ma11</text><rect class="Z"/><rect class="F" x="13.2"/><rect class="C" x="26.4"/><rect class="F" x="39.6"/><rect class="K" x="52.8"/><rect class="K" x="66"/><rect class="F" x="79.2"/><rect class="K" x="92.4"/><rect class="U" x="105.6"/><rect class="K" x="118.8"/><rect class="A" x="132"/><rect class="M" x="145.2"/><rect class="A" x="158.4"/><rect class="G" x="171.6"/><text class="st" x=".8" y="5.4">★</text><g class="l" transform="translate(1.3,4.6)"><text class="d" x="13.2">F</text><text class="d" x="26.4">C</text><text class="d" x="39.6">F</text><text x="52.8">K</text><text x="66">K</text><text class="d" x="79.2">F</text><text x="92.4">K</text><text x="105.6">U</text><text x="118.8">K</text><text class="d" x="132">A</text><text x="145.2">M</text><text class="d" x="158.4">A</text><text x="171.6">G</text></g><g class="s" transform="translate(12.4,12.4)"><text x="66">-2K</text><text class="d" x="158.4">W</text><text x="171.6">WR</text></g></g>

<g id="Ma12" transform="translate(316.7,188.48)"><text class="sm" x="-31" y="4.6">BLG2/Ms</text><text class="sm" x="-31" y="11.4">CHD/Ms</text><text class="rl" x="-3.5" y="10.3">Ma12</text><rect class="Z"/><rect class="F" x="13.2"/><rect class="C" x="26.4"/><rect class="F" x="39.6"/><rect class="K" x="52.8"/><rect class="K" x="66"/><rect class="F" x="79.2"/><rect class="K" x="92.4"/><rect class="U" x="105.6"/><rect class="K" x="118.8"/><rect class="A" x="132"/><rect class="M" x="145.2"/><rect class="A" x="158.4"/><rect class="G" x="171.6"/><text class="st" x=".8" y="5.4">★</text><g class="l" transform="translate(1.3,4.6)"><text class="d" x="13.2">F</text><text class="d" x="26.4">C</text><text class="d" x="39.6">F</text><text x="52.8">K</text><text x="66">K</text><text class="d" x="79.2">F</text><text x="92.4">K</text><text x="105.6">U</text><text x="118.8">K</text><text class="d" x="132">A</text><text x="145.2">M</text><text class="d" x="158.4">A</text><text x="171.6">G</text></g><g class="s" transform="translate(12.4,12.4)"><text class="d" x="158.4">W</text><text x="171.6">WR</text></g></g>

<g id="Ma13" transform="translate(316.7,205.46)"><text class="rl" x="-3.5" y="10.3">Ma13</text><rect class="Z"/><rect class="F" x="13.2"/><rect class="F" x="26.4"/><rect class="C" x="39.6"/><rect class="F" x="52.8"/><rect class="K" x="66"/><rect class="M" x="79.2"/><rect class="F" x="92.4"/><rect class="K" x="105.6"/><rect class="U" x="118.8"/><rect class="K" x="132"/><rect class="F" x="145.2"/><rect class="K" x="158.4"/><rect class="K" x="171.6"/><rect class="A" x="184.8"/><rect class="G" x="198"/><text class="st" x=".8" y="5.4">★</text><g class="l" transform="translate(1.3,4.6)"><text class="d" x="13.2">F</text><text class="d" x="26.4">F</text><text class="d" x="39.6">C</text><text class="d" x="52.8">F</text><text x="66">K</text><text x="79.2">M</text><text class="d" x="92.4">F</text><text x="105.6">K</text><text x="118.8">U</text><text x="132">K</text><text class="d" x="145.2">F</text><text x="158.4">K</text><text x="171.6">K</text><text class="d" x="184.8">A</text><text x="198">G</text></g><g class="s" transform="translate(12.4,12.4)"><text class="d" x="184.8">W</text><text x="198">WR</text></g></g>

<g id="Ma14" transform="translate(316.7,222.44)"><text class="rl" x="-3.5" y="10.3">Ma14</text><rect class="Z"/><rect class="G" x="13.2"/><rect class="F" x="26.4"/><rect class="D" x="39.6"/><rect class="F" x="52.8"/><rect class="K" x="66"/><rect class="M" x="79.2"/><rect class="F" x="92.4"/><rect class="K" x="105.6"/><rect class="U" x="118.8"/><rect class="J" x="132"/><rect class="A" x="145.2"/><rect class="M" x="158.4"/><rect class="A" x="171.6"/><rect class="G" x="184.8"/><text class="st" x=".8" y="5.4">★</text><g class="l" transform="translate(1.3,4.6)"><text x="13.2">G</text><text class="d" x="26.4">F</text><text class="d" x="39.6">D</text><text class="d" x="52.8">F</text><text x="66">K</text><text x="79.2">M</text><text class="d" x="92.4">F</text><text x="105.6">K</text><text x="118.8">U</text><text x="132">J</text><text class="d" x="145.2">A</text><text x="158.4">M</text><text class="d" x="171.6">A</text><text x="184.8">G</text></g><g class="s" transform="translate(12.4,12.4)"><text class="d" x="171.6">W</text><text x="184.8">WR</text></g></g>

<g id="Ma15" transform="translate(316.7,239.42)"><text class="rl" x="-3.5" y="10.3">Ma15</text><rect class="Z"/><rect class="F" x="13.2"/><rect class="F" x="26.4"/><rect class="C" x="39.6"/><rect class="F" x="52.8"/><rect class="K" x="66"/><rect class="K" x="79.2"/><rect class="F" x="92.4"/><rect class="K" x="105.6"/><rect class="U" x="118.8"/><rect class="K" x="132"/><rect class="A" x="145.2"/><rect class="M" x="158.4"/><rect class="A" x="171.6"/><rect class="G" x="184.8"/><text class="st" x=".8" y="5.4">★</text><g class="l" transform="translate(1.3,4.6)"><text class="d" x="13.2">F</text><text class="d" x="26.4">F</text><text class="d" x="39.6">C</text><text class="d" x="52.8">F</text><text x="66">K</text><text x="79.2">K</text><text class="d" x="92.4">F</text><text x="105.6">K</text><text x="118.8">U</text><text x="132">K</text><text class="d" x="145.2">A</text><text x="158.4">M</text><text class="d" x="171.6">A</text><text x="184.8">G</text></g><g class="s" transform="translate(12.4,12.4)"><text class="d" x="171.6">W</text><text x="184.8">WR</text></g></g>

<g id="Ma16" transform="translate(316.7,256.4)"><text class="sl" x="-31" y="9.4">KJR/Ms</text><text class="rl" x="-3.5" y="10.3">Ma16</text><rect class="Z"/><rect class="F" x="13.2"/><rect class="C" x="26.4"/><rect class="F" x="39.6"/><rect class="K" x="52.8"/><rect class="M" x="66"/><rect class="F" x="79.2"/><rect class="K" x="92.4"/><rect class="U" x="105.6"/><rect class="K" x="118.8"/><rect class="A" x="132"/><rect class="D" x="145.2"/><rect class="A" x="158.4"/><rect class="G" x="171.6"/><text class="st" x=".8" y="5.4">★</text><g class="l" transform="translate(1.3,4.6)"><text class="d" x="13.2">F</text><text class="d" x="26.4">C</text><text class="d" x="39.6">F</text><text x="52.8">K</text><text x="66">M</text><text class="d" x="79.2">F</text><text x="92.4">K</text><text x="105.6">U</text><text x="118.8">K</text><text class="d" x="132">A</text><text class="d" x="145.2">D</text><text class="d" x="158.4">A</text><text x="171.6">G</text></g><g class="s" transform="translate(12.4,12.4)"><text class="d" x="158.4">W</text><text x="171.6">WR</text></g></g>

<g id="Ma17" transform="translate(316.7,273.38)"><text class="rl" x="-3.5" y="10.3">Ma17</text><rect class="Z"/><rect class="F" x="13.2"/><rect class="C" x="26.4"/><rect class="F" x="39.6"/><rect class="K" x="52.8"/><rect class="M" x="66"/><rect class="F" x="79.2"/><rect class="K" x="92.4"/><rect class="W" x="105.6"/><rect class="K" x="118.8"/><rect class="C" x="132"/><rect class="M" x="145.2"/><rect class="A" x="158.4"/><rect class="G" x="171.6"/><text class="st" x=".8" y="5.4">★</text><g class="l" transform="translate(1.3,4.6)"><text class="d" x="13.2">F</text><text class="d" x="26.4">C</text><text class="d" x="39.6">F</text><text x="52.8">K</text><text x="66">M</text><text class="d" x="79.2">F</text><text x="92.4">K</text><text x="105.6">W</text><text x="118.8">K</text><text class="d" x="132">C</text><text x="145.2">M</text><text class="d" x="158.4">A</text><text x="171.6">G</text></g><g class="s" transform="translate(12.4,12.4)"><text class="d" x="158.4">W</text><text x="171.6">WR</text></g></g>

<g id="Ma18" transform="translate(316.7,290.36)"><text class="rl" x="-3.5" y="10.3">Ma18</text><rect class="Z"/><rect class="F" x="13.2"/><rect class="F" x="26.4"/><rect class="D" x="39.6"/><rect class="F" x="52.8"/><rect class="K" x="66"/><rect class="M" x="79.2"/><rect class="F" x="92.4"/><rect class="K" x="105.6"/><rect class="U" x="118.8"/><rect class="K" x="132"/><rect class="C" x="145.2"/><rect class="K" x="158.4"/><rect class="K" x="171.6"/><rect class="A" x="184.8"/><rect class="G" x="198"/><text class="st" x=".8" y="5.4">★</text><g class="l" transform="translate(1.3,4.6)"><text class="d" x="13.2">F</text><text class="d" x="26.4">F</text><text class="d" x="39.6">D</text><text class="d" x="52.8">F</text><text x="66">K</text><text x="79.2">M</text><text class="d" x="92.4">F</text><text x="105.6">K</text><text x="118.8">U</text><text x="132">K</text><text class="d" x="145.2">C</text><text x="158.4">K</text><text x="171.6">K</text><text class="d" x="184.8">A</text><text x="198">G</text></g><g class="s" transform="translate(12.4,12.4)"><text class="d" x="184.8">W</text><text x="198">WR</text></g></g>

<g id="Ma19" transform="translate(316.7,307.34)"><text class="rl" x="-3.5" y="10.3">Ma19</text><rect class="Z"/><rect class="F" x="13.2"/><rect class="F" x="26.4"/><rect class="C" x="39.6"/><rect class="K" x="52.8"/><rect class="M" x="66"/><rect class="F" x="79.2"/><rect class="K" x="92.4"/><rect class="M" x="105.6"/><rect class="A" x="118.8"/><rect class="G" x="132"/><text class="st" x=".8" y="5.4">★</text><g class="l" transform="translate(1.3,4.6)"><text class="d" x="13.2">F</text><text class="d" x="26.4">F</text><text class="d" x="39.6">C</text><text x="52.8">K</text><text x="66">M</text><text class="d" x="79.2">F</text><text x="92.4">K</text><text x="105.6">M</text><text class="d" x="118.8">A</text><text x="132">G</text></g><g class="s" transform="translate(12.4,12.4)"><text class="d" x="118.8">W</text><text x="132">WR</text></g></g>

<g id="Mb1" transform="translate(316.7,324.32)"><text class="rl" x="-3.5" y="10.3">Mb1</text><rect class="Z"/><rect class="F" x="13.2"/><rect class="F" x="26.4"/><rect class="D" x="39.6"/><rect class="M" x="52.8"/><rect class="A" x="66"/><rect class="M" x="79.2"/><rect class="A" x="92.4"/><rect class="G" x="105.6"/><text class="st" x=".8" y="5.4">★</text><g class="l" transform="translate(1.3,4.6)"><text class="d" x="13.2">F</text><text class="d" x="26.4">F</text><text class="d" x="39.6">D</text><text x="52.8">M</text><text class="d" x="66">A</text><text x="79.2">M</text><text class="d" x="92.4">A</text><text x="105.6">G</text></g><g class="s" transform="translate(12.4,12.4)"><text class="d" x="92.4">W</text><text x="105.6">WR</text></g></g>

<g id="Mb2" transform="translate(316.7,341.3)"><text class="rl" x="-3.5" y="10.3">Mb2</text><rect class="Z"/><rect class="F" x="13.2"/><rect class="S" x="26.4"/><rect class="K" x="39.6"/><rect class="F" x="52.8"/><rect class="F" x="66"/><rect class="F" x="79.2"/><rect class="J" x="92.4"/><rect class="A" x="105.6"/><rect class="G" x="118.8"/><text class="st" x=".8" y="5.4">★</text><g class="l" transform="translate(1.3,4.6)"><text class="d" x="13.2">F</text><text x="26.4">S</text><text x="39.6">K</text><text class="d" x="52.8">F</text><text class="d" x="66">F</text><text class="d" x="79.2">F</text><text x="92.4">J</text><text class="d" x="105.6">A</text><text x="118.8">G</text></g><g class="s" transform="translate(12.4,12.4)"><text class="d" x="0">14K</text><text x="118.8">WR</text></g></g>

<g id="Mb3" transform="translate(316.7,358.28)"><text class="rl" x="-3.5" y="10.3">Mb3</text><rect class="Z"/><rect class="F" x="13.2"/><rect class="F" x="26.4"/><rect class="K" x="39.6"/><rect class="C" x="52.8"/><rect class="M" x="66"/><rect class="C" x="79.2"/><rect class="M" x="92.4"/><rect class="G" x="105.6"/><text class="st" x=".8" y="5.4">★</text><g class="l" transform="translate(1.3,4.6)"><text class="d" x="13.2">F</text><text class="d" x="26.4">F</text><text x="39.6">K</text><text class="d" x="52.8">C</text><text x="66">M</text><text class="d" x="79.2">C</text><text x="92.4">M</text><text x="105.6">G</text></g><g class="s" transform="translate(12.4,12.4)"><text x="105.6">WR</text></g></g>

<g id="Mb4" transform="translate(316.7,375.26)"><text class="rl" x="-3.5" y="10.3">Mb4</text><rect class="Z"/><rect class="F" x="13.2"/><rect class="F" x="26.4"/><rect class="H" x="39.6"/><rect class="K" x="52.8"/><rect class="K" x="66"/><rect class="S" x="79.2"/><rect class="H" x="92.4"/><rect class="L" x="105.6"/><rect class="H" x="118.8"/><rect class="A" x="132"/><rect class="H" x="145.2"/><rect class="G" x="158.4"/><text class="st" x=".8" y="5.4">★</text><g class="l" transform="translate(1.3,4.6)"><text class="d" x="13.2">F</text><text class="d" x="26.4">F</text><text x="39.6">H</text><text x="52.8">K</text><text x="66">K</text><text x="79.2">S</text><text x="92.4">H</text><text x="105.6">L</text><text x="118.8">H</text><text class="d" x="132">A</text><text x="145.2">H</text><text x="158.4">G</text></g><g class="s" transform="translate(12.4,12.4)"><text x="39.6">N</text><text x="92.4">N</text><text x="118.8">N</text><text x="145.2">WN</text><text x="158.4">WR</text></g></g>
</g>

<g id="right">
<g id="thap" class="rc" transform="translate(586.7,1.9)"><text class="sp" x="-37.7" y="9"><tspan class="i">t</tspan> -haplotype</text><rect class="Z"/><rect class="O" x="13.2"/><rect class="O" x="26.4"/><rect class="H" x="39.6"/><rect class="K" x="52.8"/><rect class="bx" x="66"/><rect class="H" x="79.2"/><rect class="K" x="92.4"/><rect class="bx" x="105.6"/><rect class="H" x="118.8"/><rect class="G" x="132"/><text class="st" x=".8" y="5.4">★</text><text class="bk" x="66.8" y="7.2">TDK</text><text class="bk" x="106.4" y="7.2">TDK</text><g class="l" transform="translate(1.3,4.6)"><text x="13.2">O</text><text x="26.4">O</text><text x="39.6">H</text><text x="52.8">K</text><text x="79.2">H</text><text x="92.4">K</text><text x="118.8">H</text><text x="132">G</text></g><g class="s" transform="translate(12.4,11.9)"><text class="d" x="0">A</text><text x="13.2">5V</text><text x="26.4">-6G</text><text x="39.6">N</text><text x="52.8">-2I</text><text x="79.2">N</text><text x="92.4">-2I</text><text x="118.8">N</text><text x="132">R</text></g></g>

<g id="spret" class="rc" transform="translate(586.7,20)"><text class="sp" x="-37.7" y="9">SPRET/EiJ (<tspan class="i">M. spretus</tspan>)</text><rect class="Z"/><rect class="F" x="13.2"/><rect class="F" x="26.4"/><rect class="B" x="39.6"/><rect class="P" x="52.8"/><rect class="bx" x="66"/><rect class="P" x="79.2"/><rect class="Q" x="92.4"/><rect class="G" x="105.6"/><text class="st" x=".8" y="5.4">★</text><text class="bk" x="66.8" y="8.2">TSQ</text><g class="l" transform="translate(1.3,4.6)"><text class="d" x="13.2">F</text><text class="d" x="26.4">F</text><text class="d" x="39.6">B</text><text x="52.8">P</text><text x="79.2">P</text><text x="92.4">Q</text><text x="105.6">G</text></g><g class="s" transform="translate(12.4,11.9)"><text x="92.4">1Q</text><text x="105.6">-2KW</text></g></g>

<g id="spr2" class="rc" transform="translate(586.7,38.1)"><text class="sp" x="-37.7" y="9">SPR2 (<tspan class="i">M. spretus</tspan>)</text><rect class="Z"/><rect class="B" x="13.2"/><rect class="E" x="26.4"/><rect class="bx" x="39.6"/><rect class="P" x="52.8"/><rect class="E" x="66"/><rect class="F" x="79.2"/><rect class="Q" x="92.4"/><rect class="bx" x="105.6"/><text class="st" x=".8" y="5.4">★</text><text class="bk" x="40.4" y="8.2">ASE</text><g class="l" transform="translate(1.3,4.6)"><text class="d" x="13.2">B</text><text class="d" x="26.4">E</text><text x="52.8">P</text><text class="d" x="66">E</text><text class="d" x="79.2">F</text><text x="92.4">Q</text></g><g class="s" transform="translate(12.4,11.9)"><text x="92.4">1Q</text><text x="105.6">-6Z</text></g></g>

<g id="seg" class="rc" transform="translate(586.7,56.2)"><text class="sp" x="-37.7" y="9">SEG/Pas (<tspan class="i">M. spretus</tspan>)</text><rect class="Z"/><rect class="bx" x="13.2"/><rect class="B" x="26.4"/><rect class="P" x="39.6"/><rect class="E" x="52.8"/><rect class="O" x="66"/><rect class="O" x="79.2"/><rect class="P" x="92.4"/><rect class="Q" x="105.6"/><rect class="P" x="118.8"/><rect class="P" x="132"/><rect class="Q" x="145.2"/><rect class="bx" x="158.4"/><text class="st" x=".8" y="5.4">★</text><text class="bk" x="14" y="8.2">QSQ</text><g class="l" transform="translate(1.3,4.6)"><text class="d" x="26.4">B</text><text x="39.6">P</text><text class="d" x="52.8">E</text><text x="66">O</text><text x="79.2">O</text><text x="92.4">P</text><text x="105.6">Q</text><text x="118.8">P</text><text x="132">P</text><text x="145.2">Q</text></g><g class="s" transform="translate(12.4,11.9)"><text class="d" x="0">7Q</text><text x="105.6">1Q</text><text x="145.2">1Q</text><text x="158.4">-6Z</text></g></g>

<g id="zbn" class="rc" transform="translate(586.7,74.3)"><text class="sp" x="-37.7" y="9">ZBN (<tspan class="i">M. spiciligus</tspan> )</text><rect class="Z"/><rect class="B" x="13.2"/><rect class="P" x="26.4"/><rect class="bx" x="39.6"/><rect class="F" x="52.8"/><rect class="bx" x="66"/><rect class="B" x="79.2"/><rect class="J" x="92.4"/><rect class="I" x="105.6"/><rect class="G" x="118.8"/><text class="st" x=".8" y="5.4">★</text><text class="bk" x="40.4" y="7">VHQ</text><text class="bk" x="66.8" y="7">AHQ</text><g class="l" transform="translate(1.3,4.6)"><text class="d" x="13.2">B</text><text x="26.4">P</text><text class="d" x="52.8">F</text><text class="d" x="79.2">B</text><text x="92.4">J</text><text x="105.6">I</text><text x="118.8">G</text></g><g class="s" transform="translate(12.4,11.9)"><text x="35.4">T</text><text x="61.8">T</text><text x="105.6">NT</text><text x="118.8" style="font-size:2.6px">WR</text></g></g>

<g id="spic2" class="rc" transform="translate(586.7,92.4)"><text class="sp" x="-37.7" y="9"><tspan class="i">M. spiciligus</tspan>  (2)</text><rect class="Z"/><rect class="B" x="13.2"/><rect class="B" x="26.4"/><rect class="P" x="39.6"/><rect class="bx" x="52.8"/><rect class="F" x="66"/><rect class="bx" x="79.2"/><rect class="B" x="92.4"/><rect class="J" x="105.6"/><rect class="I" x="118.8"/><rect class="G" x="132"/><text class="st" x=".8" y="5.4">★</text><text class="bk" x="53.6" y="7">VHQ</text><text class="bk" x="80" y="7">AHQ</text><g class="l" transform="translate(1.3,4.6)"><text class="d" x="13.2">B</text><text class="d" x="26.4">B</text><text x="39.6">P</text><text class="d" x="66">F</text><text class="d" x="92.4">B</text><text x="105.6">J</text><text x="118.8">I</text><text x="132">G</text></g><g class="s" transform="translate(12.4,11.9)"><text x="48.6">T</text><text x="75">T</text><text x="118.8">NT</text><text x="132" style="font-size:2.6px">WR</text></g></g>

<g id="mac1" class="rc" transform="translate(586.7,110.5)"><text class="sp" x="-37.7" y="9"><tspan class="i">M. macedonicus</tspan> -1</text><rect class="Z"/><rect class="H" x="13.2"/><rect class="B" x="26.4"/><rect class="B" x="39.6"/><rect class="B" x="52.8"/><rect class="H" x="66"/><rect class="bx" x="79.2"/><rect class="B" x="92.4"/><rect class="G" x="105.6"/><text class="st" x=".8" y="5.4">★</text><text class="bk" x="80" y="7">VHQ</text><g class="l" transform="translate(1.3,4.6)"><text x="13.2">H</text><text class="d" x="26.4">B</text><text class="d" x="39.6">B</text><text class="d" x="52.8">B</text><text x="66">H</text><text class="d" x="92.4">B</text><text x="105.6">G</text></g><g class="s" transform="translate(12.4,11.9)"><text x="13.2" style="font-size:3.4px">-5K/N</text><text class="d" x="26.4" style="font-size:3.4px">-8K/N</text><text class="d" x="39.6" style="font-size:3.4px">-8K/N</text><text class="d" x="52.8" style="font-size:3.4px">-8K/N</text><text x="66">N</text><text x="75">T</text><text class="d" x="92.4">-8K</text><text x="105.6" style="font-size:2.6px">WR</text></g></g>

<g id="mac2" class="rc" transform="translate(586.7,128.6)"><text class="sp" x="-37.7" y="9"><tspan class="i">M. macedonicus</tspan> -2</text><rect class="Z"/><rect class="bx" x="13.2"/><rect class="A" x="26.4"/><rect class="B" x="39.6"/><rect class="I" x="52.8"/><rect class="H" x="66"/><rect class="bx" x="79.2"/><rect class="B" x="92.4"/><rect class="G" x="105.6"/><text class="st" x=".8" y="5.4">★</text><text class="bk" x="14" y="7">QHE</text><text class="bk" x="80" y="7">VHQ</text><g class="l" transform="translate(1.3,4.6)"><text class="d" x="26.4">A</text><text class="d" x="39.6">B</text><text x="52.8">I</text><text x="66">H</text><text class="d" x="92.4">B</text><text x="105.6">G</text></g><g class="s" transform="translate(12.4,11.9)"><text x="13.2">N</text><text class="d" x="26.4" style="font-size:3.4px">-5K/N</text><text class="d" x="39.6" style="font-size:3.4px">-8K/N</text><text x="52.8" style="font-size:3.4px">-8K/N</text><text x="66">N</text><text x="75">T</text><text class="d" x="92.4">-8K</text><text x="105.6" style="font-size:2.6px">WR</text></g></g>

<g id="mac3" class="rc" transform="translate(586.7,146.7)"><text class="sp" x="-37.7" y="9"><tspan class="i">M. macedonicus</tspan> (2)</text><rect class="Z"/><rect class="F" x="13.2"/><rect class="bx" x="26.4"/><rect class="B" x="39.6"/><rect class="F" x="52.8"/><rect class="bx" x="66"/><rect class="F" x="79.2"/><rect class="bx" x="92.4"/><rect class="B" x="105.6"/><rect class="J" x="118.8"/><rect class="I" x="132"/><rect class="G" x="145.2"/><text class="st" x=".8" y="5.4">★</text><text class="bk" x="27.2" y="8.2">VDK</text><text class="bk" x="66.8" y="7">VHQ</text><text class="bk" x="93.2" y="8.2">AHK</text><g class="l" transform="translate(1.3,4.6)"><text class="d" x="13.2">F</text><text class="d" x="39.6">B</text><text class="d" x="52.8">F</text><text class="d" x="79.2">F</text><text class="d" x="105.6">B</text><text x="118.8">J</text><text x="132">I</text><text x="145.2">G</text></g><g class="s" transform="translate(12.4,11.9)"><text x="61.8">T</text><text x="132">NT</text><text x="145.2" style="font-size:2.6px">WR</text></g></g>

<g id="caroli" class="rc" transform="translate(586.7,164.8)"><text class="sp" x="-37.7" y="9">CAROLI/EiJ (<tspan class="i">M. caroli</tspan>)</text><rect class="Z2"/><rect class="F" x="13.2"/><rect class="F" x="26.4"/><rect class="H" x="39.6"/><rect class="bx" x="52.8"/><rect class="F" x="66"/><rect class="F" x="79.2"/><rect class="bx" x="92.4"/><rect class="bx" x="105.6"/><rect class="H" x="118.8"/><rect class="K" x="132"/><rect class="K" x="145.2"/><rect class="bx" x="158.4"/><text class="st" x=".8" y="5.4">★</text><text class="bk" x="53.6" y="8.2">AAQ</text><text class="bk" x="93.2" y="8.2">AAQ</text><text class="bk" x="106.4" y="8.2">VNK</text><g class="l" transform="translate(1.3,4.6)"><text class="d" x="13.2">F</text><text class="d" x="26.4">F</text><text x="39.6">H</text><text class="d" x="66">F</text><text class="d" x="79.2">F</text><text x="118.8">H</text><text x="132">K</text><text x="145.2">K</text></g><g class="s" transform="translate(12.4,11.9)"><text x="0">QNK</text><text x="158.4">-5Z</text></g></g>

<g id="pahari" class="rc" transform="translate(586.7,182.9)"><text class="sp" x="-37.7" y="9">PAHARI/EiJ (<tspan class="i">M. pahari</tspan>)</text><rect class="Z"/><rect class="bx" x="13.2"/><rect class="bx" x="26.4"/><rect class="bx" x="39.6"/><rect class="F" x="52.8"/><rect class="bx" x="66"/><rect class="A" x="79.2"/><rect class="bx" x="92.4"/><rect class="bx" x="105.6"/><rect class="bx" x="118.8"/><rect class="bx" x="132"/><text class="st" x=".8" y="5.4">★</text><text class="bk" x="14" y="8.2">QNT</text><text class="bk" x="27.2" y="8.2">QNT</text><text class="bk" x="40.4" y="8.2">EPK</text><text class="bk" x="66.8" y="8.2">RPR</text><text class="bk" x="93.2" y="8.2">QPR</text><text class="bk" x="106.4" y="8.2">RNK</text><text class="bk" x="119.6" y="6.6">QNT</text><text class="bk" x="132.8" y="6.6">QHA</text><g class="l" transform="translate(1.3,4.6)"><text class="d" x="52.8">F</text><text class="d" x="79.2">A</text></g><g class="s" transform="translate(12.4,11.9)"><text class="d" x="79.2">-5T</text><text x="118.8">11N</text><text x="132" style="font-size:2.6px">-5T/11N</text></g></g>

<g id="pahari2" class="rc" transform="translate(586.7,201)"><text class="sp" x="-37.7" y="9"><tspan class="i">M. pahari</tspan> (2)</text><rect class="Z"/><rect class="bx" x="13.2"/><rect class="bx" x="26.4"/><rect class="bx" x="39.6"/><rect class="bx" x="52.8"/><rect class="H" x="66"/><rect class="V" x="79.2"/><rect class="bx" x="92.4"/><rect class="bx" x="105.6"/><rect class="bx" x="118.8"/><text class="st" x=".8" y="5.4">★</text><text class="bk" x="14" y="8.2">QNT</text><text class="bk" x="27.2" y="8.2">QPR</text><text class="bk" x="40.4" y="8.2">QNT</text><text class="bk" x="53.6" y="8.2">QPR</text><text class="bk" x="93.2" y="8.2">QPR</text><text class="bk" x="106.4" y="6.6">QNT</text><text class="bk" x="119.6" y="6.6">QHA</text><g class="l" transform="translate(1.3,4.6)"><text x="66">H</text><text x="79.2">V</text></g><g class="s" transform="translate(12.4,11.9)"><text x="105.6" style="font-size:2.6px">-5T/11N</text><text x="118.8" style="font-size:2.6px">-5T/11N</text></g></g>
</g>

<g id="legend" class="lg">
<g id="lg-Z" transform="translate(597,223.5)"><rect class="Z"/><text class="st" x="1.5" y="7">★</text><text class="lt" x="15" y="8.6">DNE (First)</text></g>
<g id="lg-A" transform="translate(597,238.7)"><rect class="A"/><text class="ll d" x="1.3" y="5.6">A</text><text class="lt" x="15" y="8.6">QNK</text></g>
<g id="lg-B" transform="translate(597,253.9)"><rect class="B"/><text class="ll d" x="1.3" y="5.6">B</text><text class="lt" x="15" y="8.6">QNQ</text></g>
<g id="lg-C" transform="translate(597,269.1)"><rect class="C"/><text class="ll d" x="1.3" y="5.6">C</text><text class="lt" x="15" y="8.6">QVK</text></g>
<g id="lg-D" transform="translate(597,284.3)"><rect class="D"/><text class="ll d" x="1.3" y="5.6">D</text><text class="lt" x="15" y="8.6">QVQ</text></g>
<g id="lg-E" transform="translate(597,299.5)"><rect class="E"/><text class="ll d" x="1.3" y="5.6">E</text><text class="lt" x="15" y="8.6">QSK</text></g>
<g id="lg-F" transform="translate(597,314.7)"><rect class="F"/><text class="ll d" x="1.3" y="5.6">F</text><text class="lt" x="15" y="8.6">QDK</text></g>
<g id="lg-G" transform="translate(597,329.9)"><rect class="G"/><text class="ll" x="1.3" y="5.6">G</text><text class="lt" x="15" y="8.6">QDQ</text></g>
<g id="lg-H" transform="translate(597,345.1)"><rect class="H"/><text class="ll" x="1.3" y="5.6">H</text><text class="lt" x="15" y="8.6">QHK</text></g>
<g id="lg-I" transform="translate(597,360.3)"><rect class="I"/><text class="ll" x="1.3" y="5.6">I</text><text class="lt" x="15" y="8.6">QHQ</text></g>
<g id="lg-J" transform="translate(597,375.5)"><rect class="J"/><text class="ll" x="1.3" y="5.6">J</text><text class="lt" x="15" y="8.6">ANK</text></g>
<g id="lg-K" transform="translate(597,390.7)"><rect class="K"/><text class="ll" x="1.3" y="5.6">K</text><text class="lt" x="15" y="8.6">ANQ</text></g>
<g id="lg-L" transform="translate(597,405.9)"><rect class="L"/><text class="ll" x="1.3" y="5.6">L</text><text class="lt" x="15" y="8.6">AVK</text></g>
<g id="lg-M" transform="translate(597,421.1)"><rect class="M"/><text class="ll" x="1.3" y="5.6">M</text><text class="lt" x="15" y="8.6">AVQ</text></g>
<g id="lg-N" transform="translate(671,223.5)"><rect class="N"/><text class="ll" x="1.3" y="5.6">N</text><text class="lt" x="15" y="8.6">ASK</text></g>
<g id="lg-O" transform="translate(671,238.7)"><rect class="O"/><text class="ll" x="1.3" y="5.6">O</text><text class="lt" x="15" y="8.6">ASQ</text></g>
<g id="lg-P" transform="translate(671,253.9)"><rect class="P"/><text class="ll" x="1.3" y="5.6">P</text><text class="lt" x="15" y="8.6">ADK</text></g>
<g id="lg-Q" transform="translate(671,269.1)"><rect class="Q"/><text class="ll" x="1.3" y="5.6">Q</text><text class="lt" x="15" y="8.6">VNQ</text></g>
<g id="lg-R" transform="translate(671,284.3)"><rect class="R"/><text class="ll" x="1.3" y="5.6">R</text><text class="lt" x="15" y="8.6">VVK</text></g>
<g id="lg-S" transform="translate(671,299.5)"><rect class="S"/><text class="ll" x="1.3" y="5.6">S</text><text class="lt" x="15" y="8.6">VVQ</text></g>
<g id="lg-T" transform="translate(671,314.7)"><rect class="T"/><text class="ll" x="1.3" y="5.6">T</text><text class="lt" x="15" y="8.6">VSK</text></g>
<g id="lg-U" transform="translate(671,329.9)"><rect class="U"/><text class="ll" x="1.3" y="5.6">U</text><text class="lt" x="15" y="8.6">ESK</text></g>
<g id="lg-V" transform="translate(671,345.1)"><rect class="V"/><text class="ll" x="1.3" y="5.6">V</text><text class="lt" x="15" y="8.6">ENK</text></g>
<g id="lg-W" transform="translate(671,360.3)"><rect class="W"/><text class="ll" x="1.3" y="5.6">W</text><text class="lt" x="15" y="8.6">ESQ</text></g>
<g id="lg-X" transform="translate(671,375.5)"><rect class="X"/><text class="ll" x="1.3" y="5.6">X</text><text class="lt" x="15" y="8.6">EDK</text></g>
<g id="lg-Y" transform="translate(671,390.7)"><rect class="Y"/><text class="ll" x="1.3" y="5.6">Y</text><text class="lt" x="15" y="8.6">HNK</text></g>
<g id="lg-rare" transform="translate(671,405.9)"><rect class="bx"/><text class="lt" x="15" y="8.6">Rare Combination</text></g>
</g>
<g id="connectors"/>
</svg>
